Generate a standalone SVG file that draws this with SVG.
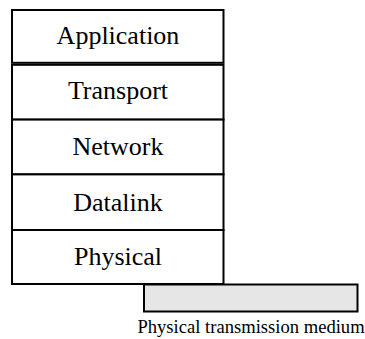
<svg xmlns="http://www.w3.org/2000/svg" width="365" height="339" viewBox="0 0 365 339">
  <style>
    .layer rect { fill: #ffffff; stroke: #000000; stroke-width: 2; }
    .layer text { font-family: "Liberation Serif", "Times New Roman", serif; font-size: 26px; fill: #000000; text-anchor: middle; }
    .medium rect { fill: #e6e6e6; stroke: #000000; stroke-width: 2; }
    .caption { font-family: "Liberation Serif", "Times New Roman", serif; font-size: 18.6px; fill: #000000; text-anchor: middle; }
  </style>
  <rect width="365" height="339" fill="#ffffff"/>
  <g id="application" class="layer">
    <rect x="12" y="10" width="211.5" height="52.8"/>
    <text x="118" y="43.5">Application</text>
  </g>
  <g id="transport" class="layer">
    <rect x="12" y="64.8" width="211.5" height="54.8"/>
    <text x="118" y="99">Transport</text>
  </g>
  <g id="network" class="layer">
    <rect x="12" y="119.6" width="211.5" height="54.8"/>
    <text x="118" y="155">Network</text>
  </g>
  <g id="datalink" class="layer">
    <rect x="12" y="174.4" width="211.5" height="55.6"/>
    <text x="118" y="211">Datalink</text>
  </g>
  <g id="physical" class="layer">
    <rect x="12" y="230" width="211.5" height="54"/>
    <text x="118" y="265">Physical</text>
  </g>
  <g id="medium" class="medium">
    <rect x="144" y="284.5" width="213.5" height="27"/>
  </g>
  <g id="connectors"></g>
  <text class="caption" x="251" y="333">Physical transmission medium</text>
</svg>
